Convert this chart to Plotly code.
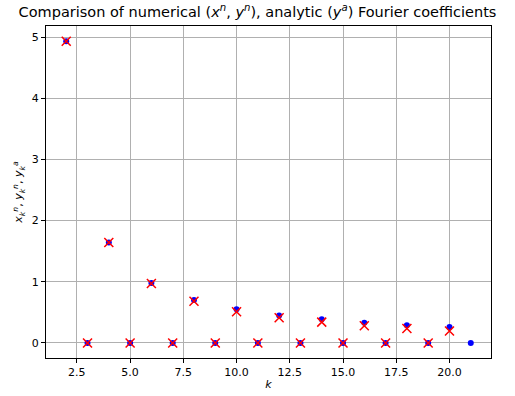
import plotly.graph_objects as go

k_num = list(range(2, 22))
y_num = [4.93, 0, 1.64, 0, 0.98, 0, 0.70, 0, 0.55, 0, 0.45, 0, 0.385, 0, 0.33, 0, 0.29, 0, 0.26, 0]
k_ana = list(range(2, 21))
y_ana = [4.93, 0, 1.64, 0, 0.97, 0, 0.68, 0, 0.51, 0, 0.41, 0, 0.34, 0, 0.28, 0, 0.235, 0, 0.195]

x_ticks = [2.5, 5.0, 7.5, 10.0, 12.5, 15.0, 17.5, 20.0]
y_ticks = [0, 1, 2, 3, 4, 5]

fig = go.Figure()
fig.add_trace(go.Scatter(x=k_num, y=y_num, mode="markers",
                         marker=dict(color="#0000ff", size=6, symbol="circle"),
                         name="numerical"))
fig.add_trace(go.Scatter(x=k_ana, y=y_ana, mode="markers",
                         marker=dict(color="#ff0000", size=9, symbol="x-thin",
                                     line=dict(color="#ff0000", width=1.5)),
                         name="analytic"))

axis_common = dict(showline=True, linecolor="black", linewidth=1, mirror=True,
                   ticks="outside", ticklen=4, tickcolor="black", automargin=False,
                   showgrid=True, gridcolor="#b0b0b0", gridwidth=1, zeroline=False,
                   tickfont=dict(family="DejaVu Sans", size=11, color="black"))

fig.update_layout(
    width=515, height=396,
    margin=dict(l=46, r=24, t=26, b=38),
    paper_bgcolor="white", plot_bgcolor="white",
    showlegend=False,
    font=dict(family="DejaVu Sans", color="black"),
    title=dict(text="Comparison of numerical (<i>x<sup>n</sup></i>, <i>y<sup>n</sup></i>), analytic (<i>y<sup>a</sup></i>) Fourier coefficients",
               x=0.5, xanchor="center", y=0.97, yanchor="middle",
               font=dict(family="DejaVu Sans", size=14.5, color="black")),
    xaxis=dict(range=[1.05, 21.95], tickvals=x_ticks, tickformat=".1f",
               title=dict(text="<i>k</i>", standoff=2, font=dict(size=11)), **axis_common),
    yaxis=dict(range=[-0.2467, 5.18], tickvals=y_ticks,
               title=dict(text="<i>x<sub>k</sub><sup>n</sup></i>, <i>y<sub>k</sub><sup>n</sup></i>, <i>y<sub>k</sub><sup>a</sup></i>",
                          standoff=6, font=dict(size=11)), **axis_common),
)

fig.write_html("out.html")
